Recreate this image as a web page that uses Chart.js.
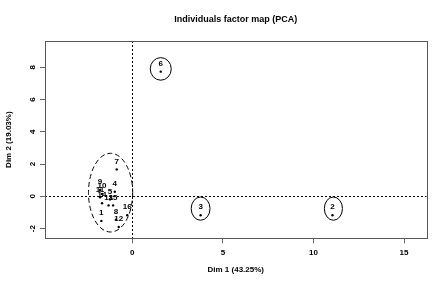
<!DOCTYPE html>
<html><head><meta charset="utf-8">
<script src="https://cdn.jsdelivr.net/npm/chart.js@4"></script>
<style>html,body{margin:0;padding:0;background:#fff}#wrap{width:446px;height:287px}</style>
</head><body><div id="wrap"><canvas id="c" width="446" height="287"></canvas></div>
<script>
const individuals = ['1','2','3','4','5','6','7','8','9','10','11','12','13','14','15','16'];
const dim1 = [-1.71, 11.05, 3.77, -0.97, -1.23, 1.57, -0.86, -0.9, -1.78, -1.67, -1.78, -0.75, -1.31, -1.67, -1.06, -0.28];
const dim2 = [-1.52, -1.17, -1.17, 0.29, -0.19, 7.73, 1.67, -1.44, 0.40, 0.15, -0.06, -1.9, -0.56, -0.43, -0.56, -1.17];
const xTicks = [0, 5, 10, 15];
const yTicks = [-2, 0, 2, 4, 6, 8];
// highlighted groups (ellipses) in data units
const ellipseCx = [1.57, 3.77, 11.1, -1.2];
const ellipseCy = [7.9, -0.76, -0.76, 0.23];
const ellipseRx = [0.58, 0.52, 0.5, 1.22];
const ellipseRy = [0.7, 0.72, 0.72, 2.44];
const ellipseDashed = [false, false, false, true];
const titleText = 'Individuals factor map (PCA)';
const xTitle = 'Dim 1 (43.25%)';
const yTitle = 'Dim 2 (19.03%)';

const FONT = '"Liberation Sans", Arial, sans-serif';

const overlay = {
  id: 'overlay',
  beforeDatasetsDraw(chart) {
    const {ctx, chartArea: a, scales: {x, y}} = chart;
    ctx.save();
    ctx.strokeStyle = '#000';
    ctx.lineWidth = 1;
    ctx.setLineDash([2, 2]);
    const x0 = Math.round(x.getPixelForValue(0)) + 0.5;
    const y0 = Math.round(y.getPixelForValue(0)) + 0.5;
    ctx.beginPath(); ctx.moveTo(x0, a.top); ctx.lineTo(x0, a.bottom); ctx.stroke();
    ctx.beginPath(); ctx.moveTo(a.left, y0); ctx.lineTo(a.right, y0); ctx.stroke();
    ctx.restore();
  },
  afterDatasetsDraw(chart) {
    const {ctx, chartArea: a, scales: {x, y}} = chart;
    ctx.save();
    ctx.strokeStyle = '#000';
    ctx.lineWidth = 1;
    for (let i = 0; i < ellipseCx.length; i++) {
      const cx = x.getPixelForValue(ellipseCx[i]);
      const cy = y.getPixelForValue(ellipseCy[i]);
      const rx = Math.abs(x.getPixelForValue(ellipseCx[i] + ellipseRx[i]) - cx);
      const ry = Math.abs(y.getPixelForValue(ellipseCy[i] + ellipseRy[i]) - cy);
      ctx.setLineDash(ellipseDashed[i] ? [5, 3] : []);
      ctx.beginPath(); ctx.ellipse(cx, cy, rx, ry, 0, 0, Math.PI * 2); ctx.stroke();
    }
    ctx.setLineDash([]);
    ctx.fillStyle = '#000';
    ctx.font = 'bold 8px ' + FONT;
    ctx.textAlign = 'center';
    ctx.textBaseline = 'middle';
    for (let i = 0; i < individuals.length; i++) {
      ctx.fillText(individuals[i], x.getPixelForValue(dim1[i]), y.getPixelForValue(dim2[i]) - 8);
    }
    ctx.strokeStyle = '#555';
    ctx.strokeRect(Math.round(a.left) + 0.5, Math.round(a.top) + 0.5, Math.round(a.right - a.left), Math.round(a.bottom - a.top));
    ctx.fillStyle = '#000';
    ctx.font = 'bold 8px ' + FONT;
    y.ticks.forEach(t => {
      const py = y.getPixelForValue(t.value);
      ctx.save(); ctx.translate(33, py); ctx.rotate(-Math.PI / 2);
      ctx.textAlign = 'center'; ctx.textBaseline = 'middle';
      ctx.fillText(String(t.value), 0, 0);
      ctx.restore();
    });
    ctx.textAlign = 'center'; ctx.textBaseline = 'middle';
    ctx.font = 'bold 9px ' + FONT;
    ctx.fillText(titleText, (a.left + a.right) / 2, 20);
    ctx.font = 'bold 8px ' + FONT;
    ctx.fillText(xTitle, (a.left + a.right) / 2, 270);
    ctx.save(); ctx.translate(9, (a.top + a.bottom) / 2); ctx.rotate(-Math.PI / 2);
    ctx.fillText(yTitle, 0, 0);
    ctx.restore();
    ctx.restore();
  }
};

new Chart(document.getElementById('c'), {
  type: 'scatter',
  data: {
    datasets: [{
      data: dim1.map((v, i) => ({x: v, y: dim2[i]})),
      pointRadius: 1.2,
      pointBackgroundColor: '#000',
      pointBorderWidth: 0
    }]
  },
  options: {
    responsive: false,
    animation: false,
    devicePixelRatio: 1,
    layout: {padding: {top: 41, right: 19.5, left: 0, bottom: 0}},
    plugins: {legend: {display: false}, tooltip: {enabled: false}, title: {display: false}},
    scales: {
      x: {
        type: 'linear', min: -4.82, max: 16.24,
        afterBuildTicks: s => { s.ticks = xTicks.map(v => ({value: v})); },
        afterFit: s => { s.height = 48.7; },
        grid: {drawOnChartArea: false, tickLength: 5, color: '#666'},
        border: {display: false},
        ticks: {font: {family: FONT, size: 8, weight: 'bold'}, color: '#000', padding: 5, maxRotation: 0}
      },
      y: {
        type: 'linear', min: -2.6, max: 9.63,
        afterBuildTicks: s => { s.ticks = yTicks.map(v => ({value: v})); },
        afterFit: s => { s.width = 45; },
        grid: {drawOnChartArea: false, tickLength: 5, color: '#666'},
        border: {display: false},
        ticks: {display: false}
      }
    }
  },
  plugins: [overlay]
});
</script></body></html>
